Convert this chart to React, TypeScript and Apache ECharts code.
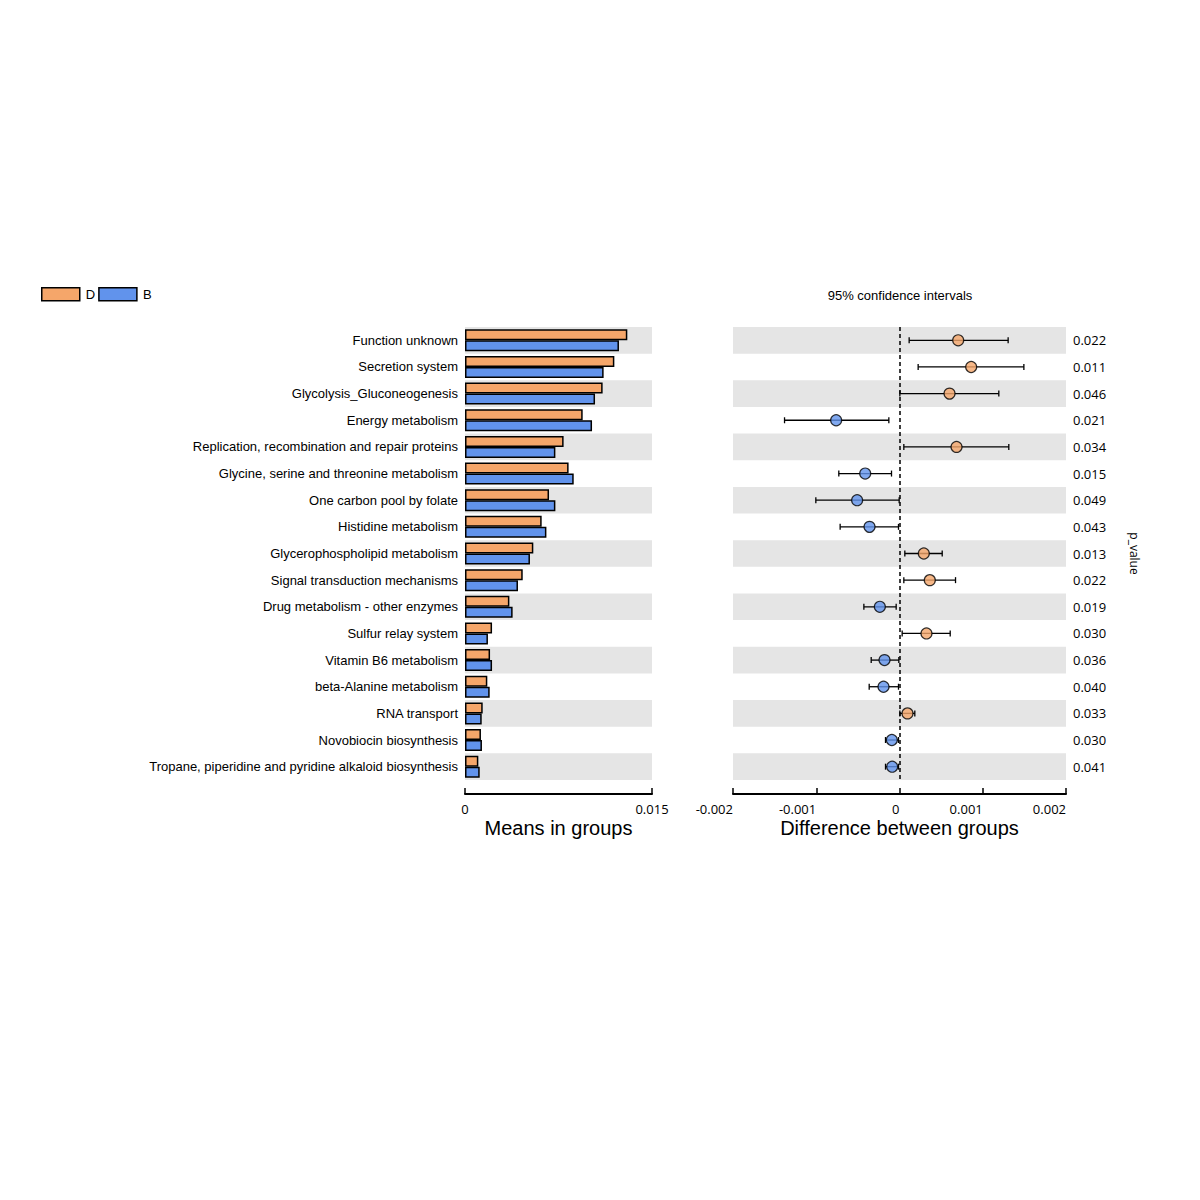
import React, { useEffect, useRef } from "react";
import * as echarts from "echarts";

const categories = [
  "Function unknown",
  "Secretion system",
  "Glycolysis_Gluconeogenesis",
  "Energy metabolism",
  "Replication, recombination and repair proteins",
  "Glycine, serine and threonine metabolism",
  "One carbon pool by folate",
  "Histidine metabolism",
  "Glycerophospholipid metabolism",
  "Signal transduction mechanisms",
  "Drug metabolism - other enzymes",
  "Sulfur relay system",
  "Vitamin B6 metabolism",
  "beta-Alanine metabolism",
  "RNA transport",
  "Novobiocin biosynthesis",
  "Tropane, piperidine and pyridine alkaloid biosynthesis",
];

const meanD = [
  0.01302, 0.01198, 0.01104, 0.00944, 0.00791, 0.00831, 0.00674, 0.00615, 0.00548,
  0.00463, 0.00356, 0.00217, 0.00201, 0.00179, 0.00142, 0.00128, 0.00107,
];
const meanB = [
  0.01235, 0.01112, 0.01043, 0.01019, 0.00725, 0.00872, 0.00725, 0.00653, 0.00521,
  0.00425, 0.00382, 0.00184, 0.00217, 0.00198, 0.00134, 0.00136, 0.00118,
];

const diff = [
  0.000705, 0.000861, 0.000601, -0.000761, 0.000685, -0.000412, -0.000509, -0.00036,
  0.000292, 0.000364, -0.000236, 0.000324, -0.00018, -0.000192, 0.000096, -0.000092,
  -0.000088,
];
const ciLow = [
  0.000116, 0.000224, 0.000004, -0.001381, 0.000052, -0.000729, -0.001005, -0.000713,
  0.000064, 0.000052, -0.000428, 0.000032, -0.00034, -0.000364, 0.000004, -0.000168,
  -0.000168,
];
const ciHigh = [
  0.001305, 0.001494, 0.001193, -0.000128, 0.001313, -0.000096, -0.000004, -0.000012,
  0.000513, 0.000673, -0.00004, 0.000609, -0.000008, -0.000012, 0.000184, -0.000012,
  -0.000012,
];

const pValues = [
  "0.022", "0.011", "0.046", "0.021", "0.034", "0.015", "0.049", "0.043", "0.013",
  "0.022", "0.019", "0.030", "0.036", "0.040", "0.033", "0.030", "0.041",
];

const leftTicks = [0, 0.015];

const ORANGE = "#F5A66A";
const BLUE = "#6193EC";
const BAND = "#E5E5E5";
const SANS = "Liberation Sans, Arial, sans-serif";
const NUM = "Open Sans, sans-serif";

export default function App() {
  const ref = useRef<HTMLDivElement>(null);

  useEffect(() => {
    if (!ref.current) return;
    const chart = echarts.init(ref.current, undefined, { renderer: "svg" });

    const option: any = {
      animation: false,
      backgroundColor: "#fff",
      legend: {
        data: ["D", "B"],
        left: 36,
        top: 282,
        icon: "rect",
        itemWidth: 38,
        itemHeight: 13,
        itemGap: 3,
        textStyle: { fontFamily: SANS, fontSize: 13, color: "#000", padding: [0, 0, 0, 1] },
        itemStyle: { borderColor: "#000", borderWidth: 1.5 },
      },
      graphic: [
        {
          type: "text",
          x: 900,
          y: 295,
          style: {
            text: "95% confidence intervals",
            fontFamily: SANS,
            fontSize: 13,
            fill: "#000",
            align: "center",
            verticalAlign: "middle",
          },
        },
      ],
      grid: [
        { left: 465, width: 187, top: 327, height: 453 },
        { left: 733, width: 333, top: 327, height: 453 },
      ],
      xAxis: [
        {
          gridIndex: 0,
          type: "value",
          min: leftTicks[0],
          max: leftTicks[1],
          interval: leftTicks[1] - leftTicks[0],
          offset: 14,
          splitLine: { show: false },
          axisLine: { show: true, lineStyle: { color: "#000", width: 2 } },
          axisTick: { show: true, inside: true, length: 6, lineStyle: { color: "#000", width: 1.5 } },
          axisLabel: { fontFamily: NUM, fontSize: 13, color: "#000", margin: 8 },
          name: "Means in groups",
          nameLocation: "middle",
          nameGap: 24,
          nameTextStyle: { fontFamily: SANS, fontSize: 20, color: "#000" },
        },
        {
          gridIndex: 1,
          type: "value",
          min: -0.002,
          max: 0.002,
          interval: 0.001,
          offset: 14,
          splitLine: { show: false },
          axisLine: { show: true, onZero: false, lineStyle: { color: "#000", width: 2 } },
          axisTick: { show: true, inside: true, length: 6, lineStyle: { color: "#000", width: 1.5 } },
          axisLabel: { fontFamily: NUM, fontSize: 13, color: "#000", margin: 8, align: "right" },
          name: "Difference between groups",
          nameLocation: "middle",
          nameGap: 24,
          nameTextStyle: { fontFamily: SANS, fontSize: 20, color: "#000" },
        },
      ],
      yAxis: [
        {
          gridIndex: 0,
          type: "category",
          data: categories,
          inverse: true,
          axisLine: { show: false },
          axisTick: { show: false },
          axisLabel: { fontFamily: SANS, fontSize: 13, color: "#000", margin: 7 },
          splitArea: { show: true, areaStyle: { color: [BAND, "rgba(255,255,255,0)"] } },
        },
        {
          gridIndex: 1,
          type: "category",
          data: categories,
          inverse: true,
          position: "right",
          axisLine: { show: false },
          axisTick: { show: false },
          axisLabel: {
            fontFamily: NUM,
            fontSize: 13,
            color: "#000",
            margin: 7,
            formatter: (_v: string, i: number) => pValues[i],
          },
          splitArea: { show: true, areaStyle: { color: [BAND, "rgba(255,255,255,0)"] } },
          name: "p_value",
          nameLocation: "middle",
          nameRotate: -90,
          nameGap: 62,
          nameTextStyle: { fontFamily: NUM, fontSize: 12, color: "#000" },
        },
      ],
      series: [
        {
          name: "D",
          type: "bar",
          xAxisIndex: 0,
          yAxisIndex: 0,
          data: meanD,
          barWidth: 11,
          barGap: "0%",
          itemStyle: { color: ORANGE, borderColor: "#000", borderWidth: 1.5 },
        },
        {
          name: "B",
          type: "bar",
          xAxisIndex: 0,
          yAxisIndex: 0,
          data: meanB,
          barWidth: 11,
          barGap: "0%",
          itemStyle: { color: BLUE, borderColor: "#000", borderWidth: 1.5 },
        },
        {
          type: "custom",
          xAxisIndex: 1,
          yAxisIndex: 1,
          data: categories.map((_c, i) => [i, ciLow[i], ciHigh[i]]),
          encode: { x: [1, 2], y: 0 },
          renderItem: (_params: any, api: any) => {
            const idx = api.value(0);
            const a = api.coord([api.value(1), idx]);
            const b = api.coord([api.value(2), idx]);
            const h = 3;
            const st = { stroke: "#000", lineWidth: 1.3 };
            return {
              type: "group",
              children: [
                { type: "line", shape: { x1: a[0], y1: a[1], x2: b[0], y2: b[1] }, style: st },
                { type: "line", shape: { x1: a[0], y1: a[1] - h, x2: a[0], y2: a[1] + h }, style: st },
                { type: "line", shape: { x1: b[0], y1: b[1] - h, x2: b[0], y2: b[1] + h }, style: st },
              ],
            };
          },
          z: 3,
        },
        {
          type: "scatter",
          xAxisIndex: 1,
          yAxisIndex: 1,
          symbolSize: 11,
          data: diff.map((d, i) => ({
            value: [d, i],
            itemStyle: { color: d >= 0 ? ORANGE : BLUE, borderColor: "#000", borderWidth: 1.2 },
          })),
          z: 4,
          markLine: {
            silent: true,
            symbol: "none",
            label: { show: false },
            lineStyle: { color: "#000", type: [4, 3], width: 1.5 },
            data: [{ xAxis: 0 }],
          },
        },
      ],
    };

    chart.setOption(option);
    return () => chart.dispose();
  }, []);

  return <div ref={ref} style={{ width: 1200, height: 1200, margin: -8 }} />;
}
